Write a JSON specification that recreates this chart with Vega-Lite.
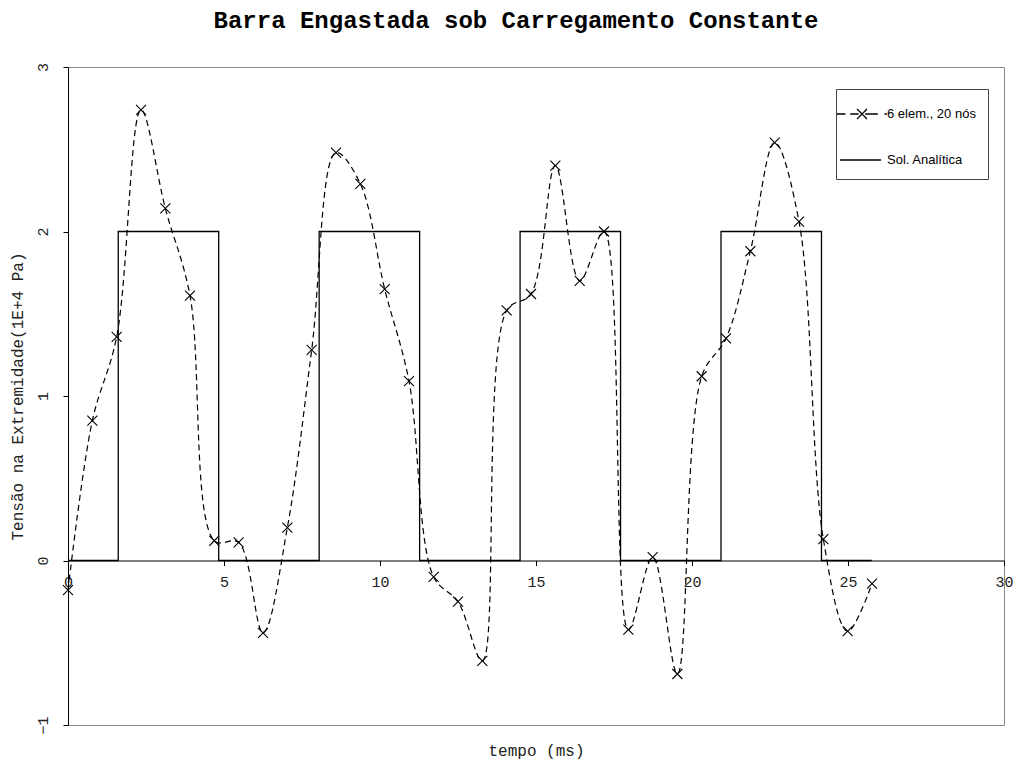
{
  "$schema": "https://vega.github.io/schema/vega-lite/v6.json",
  "width": 936,
  "height": 658,
  "autosize": "none",
  "padding": {"left": 68, "top": 67, "right": 14, "bottom": 40},
  "background": "white",
  "title": {
    "text": "Barra Engastada sob Carregamento Constante",
    "font": "Liberation Mono",
    "fontWeight": "bold",
    "fontSize": 24,
    "color": "#000",
    "anchor": "middle",
    "offset": 29,
    "dx": -20
  },
  "config": {
    "view": {"stroke": "#888", "strokeWidth": 1},
    "axis": {"grid": false}
  },
  "datasets": {
    "analitica": [
      {"t": 0, "tensao": 0, "serie": "Sol. Analítica"},
      {"t": 1.61, "tensao": 2, "serie": "Sol. Analítica"},
      {"t": 4.83, "tensao": 0, "serie": "Sol. Analítica"},
      {"t": 8.05, "tensao": 2, "serie": "Sol. Analítica"},
      {"t": 11.27, "tensao": 0, "serie": "Sol. Analítica"},
      {"t": 14.49, "tensao": 2, "serie": "Sol. Analítica"},
      {"t": 17.71, "tensao": 0, "serie": "Sol. Analítica"},
      {"t": 20.93, "tensao": 2, "serie": "Sol. Analítica"},
      {"t": 24.15, "tensao": 0, "serie": "Sol. Analítica"},
      {"t": 25.76, "tensao": 0, "serie": "Sol. Analítica"}
    ],
    "numerica": [
      {"t": 0, "tensao": -0.18, "serie": "6 elem., 20 nós"},
      {"t": 0.78, "tensao": 0.85, "serie": "6 elem., 20 nós"},
      {"t": 1.56, "tensao": 1.36, "serie": "6 elem., 20 nós"},
      {"t": 2.34, "tensao": 2.74, "serie": "6 elem., 20 nós"},
      {"t": 3.12, "tensao": 2.14, "serie": "6 elem., 20 nós"},
      {"t": 3.91, "tensao": 1.61, "serie": "6 elem., 20 nós"},
      {"t": 4.69, "tensao": 0.12, "serie": "6 elem., 20 nós"},
      {"t": 5.47, "tensao": 0.11, "serie": "6 elem., 20 nós"},
      {"t": 6.25, "tensao": -0.44, "serie": "6 elem., 20 nós"},
      {"t": 7.03, "tensao": 0.2, "serie": "6 elem., 20 nós"},
      {"t": 7.81, "tensao": 1.28, "serie": "6 elem., 20 nós"},
      {"t": 8.59, "tensao": 2.48, "serie": "6 elem., 20 nós"},
      {"t": 9.37, "tensao": 2.29, "serie": "6 elem., 20 nós"},
      {"t": 10.15, "tensao": 1.65, "serie": "6 elem., 20 nós"},
      {"t": 10.93, "tensao": 1.09, "serie": "6 elem., 20 nós"},
      {"t": 11.72, "tensao": -0.1, "serie": "6 elem., 20 nós"},
      {"t": 12.5, "tensao": -0.25, "serie": "6 elem., 20 nós"},
      {"t": 13.28, "tensao": -0.61, "serie": "6 elem., 20 nós"},
      {"t": 14.06, "tensao": 1.52, "serie": "6 elem., 20 nós"},
      {"t": 14.84, "tensao": 1.62, "serie": "6 elem., 20 nós"},
      {"t": 15.62, "tensao": 2.4, "serie": "6 elem., 20 nós"},
      {"t": 16.4, "tensao": 1.7, "serie": "6 elem., 20 nós"},
      {"t": 17.18, "tensao": 2.0, "serie": "6 elem., 20 nós"},
      {"t": 17.96, "tensao": -0.42, "serie": "6 elem., 20 nós"},
      {"t": 18.74, "tensao": 0.02, "serie": "6 elem., 20 nós"},
      {"t": 19.53, "tensao": -0.69, "serie": "6 elem., 20 nós"},
      {"t": 20.31, "tensao": 1.12, "serie": "6 elem., 20 nós"},
      {"t": 21.09, "tensao": 1.35, "serie": "6 elem., 20 nós"},
      {"t": 21.87, "tensao": 1.88, "serie": "6 elem., 20 nós"},
      {"t": 22.65, "tensao": 2.54, "serie": "6 elem., 20 nós"},
      {"t": 23.43, "tensao": 2.06, "serie": "6 elem., 20 nós"},
      {"t": 24.21, "tensao": 0.13, "serie": "6 elem., 20 nós"},
      {"t": 24.99, "tensao": -0.43, "serie": "6 elem., 20 nós"},
      {"t": 25.77, "tensao": -0.14, "serie": "6 elem., 20 nós"}
    ]
  },
  "layer": [
    {
      "data": {"name": "analitica"},
      "mark": {"type": "line", "interpolate": "step-after", "strokeWidth": 1.3},
      "encoding": {
        "x": {
          "field": "t",
          "type": "quantitative",
          "scale": {"domain": [0, 30], "nice": false, "zero": false},
          "axis": {
            "values": [0, 5, 10, 15, 20, 25, 30],
            "offset": -164.5,
            "domainColor": "#000",
            "domainWidth": 1,
            "tickColor": "#000",
            "tickSize": 5,
            "labelFont": "Liberation Mono",
            "labelFontSize": 15,
            "labelColor": "#222",
            "labelPadding": 9,
            "labelFlush": false,
            "title": "tempo (ms)",
            "titleFont": "Liberation Mono",
            "titleFontSize": 16,
            "titleFontWeight": "normal",
            "titleColor": "#222",
            "titleBaseline": "middle",
            "titleY": 190
          }
        },
        "y": {
          "field": "tensao",
          "type": "quantitative",
          "scale": {"domain": [-1, 3], "nice": false},
          "axis": {
            "values": [-1, 0, 1, 2, 3],
            "format": "d",
            "domainColor": "#000",
            "tickColor": "#000",
            "tickSize": 5,
            "labelAngle": -90,
            "labelFont": "Liberation Mono",
            "labelFontSize": 15,
            "labelColor": "#222",
            "labelPadding": 13,
            "labelFlush": false,
            "title": "Tensão na Extremidade(1E+4 Pa)",
            "titleFont": "Liberation Mono",
            "titleFontSize": 16,
            "titleFontWeight": "normal",
            "titleColor": "#222",
            "titlePadding": 10
          }
        },
        "color": {
          "field": "serie",
          "type": "nominal",
          "scale": {"domain": ["6 elem., 20 nós", "Sol. Analítica"], "range": ["#000", "#000"]},
          "legend": {
            "orient": "none",
            "legendX": 768,
            "legendY": 22,
            "title": null,
            "padding": 12,
            "rowPadding": 25,
            "symbolSize": 576,
            "symbolType": "stroke",
            "symbolStrokeWidth": 1.3,
            "symbolStrokeColor": "#000",
            "labelOffset": 13,
            "labelFont": "Liberation Sans",
            "labelFontSize": 13,
            "labelColor": "#000",
            "strokeColor": "#444",
            "fillColor": "#fff",
            "encode": {
              "symbols": {
                "update": {
                  "shape": {"signal": "datum.value === '6 elem., 20 nós' ? 'M-2,0H-1.3M-0.9,0H-0.2M0.35,0H1.4M1.95,0H2.15M-0.33,-0.42L0.5,0.42M-0.33,0.42L0.5,-0.42' : 'M-1.75,0H1.67'"},
                  "strokeDash": {"value": [1, 0]},
                  "stroke": {"value": "#000"}
                }
              }
            }
          }
        }
      }
    },
    {
      "data": {"name": "numerica"},
      "mark": {"type": "line", "interpolate": "catmull-rom", "strokeDash": [6, 4], "strokeWidth": 1.2},
      "encoding": {
        "x": {"field": "t", "type": "quantitative"},
        "y": {"field": "tensao", "type": "quantitative"},
        "color": {"field": "serie", "type": "nominal"}
      }
    },
    {
      "data": {"name": "numerica"},
      "mark": {
        "type": "point",
        "shape": "M-1,-1L1,1M-1,1L1,-1",
        "size": 100,
        "filled": false,
        "stroke": "#000",
        "strokeWidth": 1.1,
        "opacity": 1
      },
      "encoding": {
        "x": {"field": "t", "type": "quantitative"},
        "y": {"field": "tensao", "type": "quantitative"}
      }
    }
  ]
}
